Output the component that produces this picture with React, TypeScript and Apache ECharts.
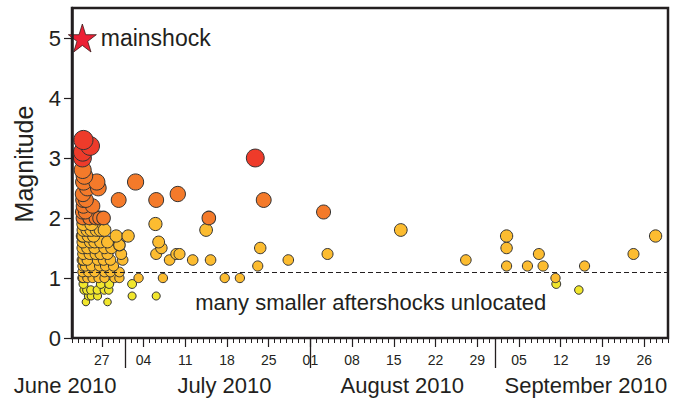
import React, { useEffect, useRef } from 'react';
import * as echarts from 'echarts';

const YEAR = 2010;
const DAY = 86400000;
const HOUR = 3600000;

// time axis extent (month-day, UTC)
const axisStart = '06-22';
const axisEnd = '09-30';
// labelled weekly ticks
const weekTicks = ['06-27', '07-04', '07-11', '07-18', '07-25', '08-01', '08-08', '08-15', '08-22', '08-29', '09-05', '09-12', '09-19', '09-26'];
// month boundary marks
const monthStarts = ['07-01', '08-01', '09-01'];
// month captions and the date each one is centred on [month-day, hour]
const monthNames = ['July 2010', 'August 2010', 'September 2010'];
const monthLabelAt: [string, number][] = [['07-17', 14], ['08-16', 10], ['09-16', 5]];
// the June caption is right-aligned on this date
const juneName = 'June 2010';
const juneLabelRightAt: [string, number] = ['06-29', 11];

const magnitudeTicks = [0, 1, 2, 3, 4, 5];

// mainshock [month-day, hour UTC, magnitude]
const mainshock: [string, number, number] = ['06-23', 17.7, 5.0];
const mainshockLabel = 'mainshock';

// completeness level (dashed line) and its note
const completenessMagnitude = 1.1;
const noteText = 'many smaller aftershocks unlocated';
const noteAt: [string, number, number] = ['08-11', 3, 0.6];

// located aftershocks [month-day, hour UTC, magnitude]
const aftershocks: [string, number, number][] = [
  // M >= 3
  ['06-23', 18, 3.0], ['06-23', 19, 3.1], ['06-23', 22, 3.3], ['06-25', 1, 3.2], ['07-22', 18, 3.0],
  // M 2 - 3
  ['06-23', 18, 2.1], ['06-23', 20, 2.4], ['06-23', 21, 2.3], ['06-23', 22, 2.2], ['06-23', 20, 2.0],
  ['06-23', 19, 2.8], ['06-23', 23, 2.6], ['06-24', 2, 2.7], ['06-24', 6, 2.1], ['06-24', 8, 2.3],
  ['06-24', 14, 2.5], ['06-24', 23, 2.0], ['06-25', 11, 2.2], ['06-26', 0, 2.0], ['06-26', 4, 2.6],
  ['06-26', 10, 2.5], ['06-26', 15, 2.0], ['06-27', 7, 2.0], ['06-29', 20, 2.3], ['07-02', 16, 2.6],
  ['07-06', 3, 2.3], ['07-09', 18, 2.4], ['07-14', 23, 2.0], ['07-24', 4, 2.3], ['08-03', 5, 2.1],
  // M 1 - 2, first week
  ['06-23', 22, 1.9], ['06-25', 6, 1.9],
  ['06-23', 22, 1.8], ['06-24', 14, 1.8], ['06-25', 6, 1.8], ['06-26', 3, 1.8], ['06-26', 19, 1.8], ['06-27', 11, 1.8],
  ['06-23', 18, 1.7], ['06-23', 21, 1.7], ['06-24', 18, 1.7], ['06-25', 15, 1.7], ['06-29', 10, 1.7], ['07-01', 10, 1.7],
  ['06-23', 20, 1.6], ['06-25', 2, 1.6], ['06-25', 19, 1.6], ['06-26', 19, 1.6], ['06-27', 23, 1.6],
  ['06-23', 19, 1.5], ['06-24', 14, 1.5], ['06-25', 19, 1.5], ['06-27', 11, 1.5], ['06-28', 15, 1.5], ['06-29', 23, 1.55],
  ['06-23', 21, 1.4], ['06-24', 23, 1.4], ['06-25', 23, 1.4], ['06-26', 19, 1.4], ['06-27', 23, 1.4], ['06-30', 6, 1.4],
  ['06-23', 18, 1.3], ['06-23', 22, 1.3], ['06-24', 14, 1.3], ['06-26', 7, 1.3], ['06-27', 7, 1.3], ['06-28', 11, 1.3], ['06-30', 12, 1.3],
  ['06-23', 20, 1.2], ['06-24', 6, 1.2], ['06-25', 6, 1.2], ['06-26', 15, 1.2], ['06-27', 15, 1.2], ['06-28', 23, 1.2],
  ['06-23', 19, 1.1], ['06-24', 18, 1.1], ['06-25', 19, 1.1], ['06-27', 11, 1.1], ['06-28', 11, 1.1], ['06-29', 23, 1.1],
  ['06-23', 18, 1.0], ['06-23', 21, 1.0], ['06-24', 14, 1.0], ['06-25', 11, 1.0], ['06-26', 11, 1.0], ['06-27', 11, 1.0],
  ['06-29', 3, 1.0], ['06-29', 23, 1.0],
  // M 1 - 2, later
  ['07-06', 0, 1.9], ['07-06', 13, 1.6], ['07-07', 0, 1.5], ['07-06', 3, 1.4], ['07-08', 9, 1.3], ['07-09', 12, 1.4],
  ['07-10', 1, 1.4], ['07-12', 6, 1.3], ['07-03', 4, 1.0], ['07-07', 6, 1.0], ['07-14', 12, 1.8], ['07-15', 6, 1.3],
  ['07-17', 15, 1.0], ['07-20', 4, 1.0], ['07-23', 14, 1.5], ['07-23', 4, 1.2], ['07-28', 7, 1.3], ['08-03', 21, 1.4],
  ['08-16', 4, 1.8], ['08-27', 2, 1.3], ['09-02', 22, 1.7], ['09-02', 22, 1.5], ['09-02', 22, 1.2], ['09-06', 10, 1.2],
  ['09-08', 8, 1.4], ['09-09', 1, 1.2], ['09-11', 3, 1.0], ['09-16', 0, 1.2], ['09-24', 5, 1.4], ['09-27', 22, 1.7],
  // M < 1
  ['06-23', 22, 0.9], ['06-24', 1, 0.8], ['06-24', 8, 0.6], ['06-24', 12, 0.8], ['06-24', 18, 0.7], ['06-25', 4, 0.8],
  ['06-25', 5, 0.7], ['06-26', 6, 0.8], ['06-26', 7, 0.7], ['06-26', 20, 0.9], ['06-27', 10, 0.8], ['06-27', 23, 0.6],
  ['06-28', 4, 0.8], ['06-28', 6, 0.9], ['07-02', 2, 0.9], ['07-02', 2, 0.7], ['07-06', 3, 0.7], ['09-11', 6, 0.9],
  ['09-15', 1, 0.8],
];

const INK = '#231f20';
const FONT = '"Liberation Sans", Arial, Helvetica, sans-serif';

const toTime = (md: string, h = 0) =>
  Date.UTC(YEAR, Number(md.slice(0, 2)) - 1, Number(md.slice(3, 5))) + h * HOUR;

const colorFor = (m: number) => {
  if (m < 1.0) return '#f1e62c';
  if (m < 2.0) return '#fcbc30';
  if (m < 2.95) return '#f47a2a';
  return '#ee3b2a';
};

const sizeFor = (m: number) => 5 + 4.3 * m;

const STAR =
  'path://M100,0 L122.45,69.1 L195.1,69.1 L136.3,111.8 L158.8,180.9 L100,138.2 L41.2,180.9 L63.7,111.8 L4.9,69.1 L77.55,69.1 Z';

export default function App() {
  const ref = useRef<HTMLDivElement>(null);

  useEffect(() => {
    if (!ref.current) return;
    const chart = echarts.init(ref.current, undefined, { renderer: 'svg' });

    const xMin = toTime(axisStart);
    const xMax = toTime(axisEnd);
    const weekTimes = weekTicks.map((d) => toTime(d));
    const monthStartTimes = monthStarts.map((d) => toTime(d));
    const monthLabelTimes = monthLabelAt.map(([d, h]) => toTime(d, h));
    const juneTime = toTime(juneLabelRightAt[0], juneLabelRightAt[1]);

    const nearestName = (v: number) => {
      let best = 0;
      monthLabelTimes.forEach((t, i) => {
        if (Math.abs(t - v) < Math.abs(monthLabelTimes[best] - v)) best = i;
      });
      return monthNames[best];
    };

    const baseX = {
      type: 'value' as const,
      min: xMin,
      max: xMax,
      position: 'bottom' as const,
      gridIndex: 0,
      axisLine: { show: false, onZero: false },
      splitLine: { show: false },
      axisLabel: { show: false },
      axisTick: { show: false },
    };

    const points = aftershocks
      .map(([d, h, m]) => [toTime(d, h), m])
      .sort((a, b) => a[1] - b[1]);

    const option: any = {
      animation: false,
      textStyle: { fontFamily: FONT },
      grid: {
        left: 72,
        right: 17,
        top: 8,
        bottom: 62,
        show: true,
        borderColor: INK,
        borderWidth: 2.5,
        backgroundColor: 'transparent',
        containLabel: false,
        outerBoundsMode: 'none',
      },
      xAxis: [
        {
          ...baseX,
          interval: DAY,
          axisTick: { show: true, length: 5, lineStyle: { color: INK, width: 1 } },
        },
        {
          ...baseX,
          axisTick: { show: true, length: 9, customValues: weekTimes, lineStyle: { color: INK, width: 1.2 } },
          axisLabel: {
            show: true,
            customValues: weekTimes,
            formatter: (v: number) => String(new Date(v).getUTCDate()).padStart(2, '0'),
            fontSize: 14,
            margin: 15,
            color: INK,
            fontFamily: FONT,
          },
        },
        {
          ...baseX,
          axisTick: { show: true, length: 30, customValues: monthStartTimes, lineStyle: { color: INK, width: 1.3 } },
        },
        {
          ...baseX,
          axisLabel: {
            show: true,
            customValues: monthLabelTimes,
            formatter: (v: number) => nearestName(v),
            fontSize: 22,
            margin: 36,
            color: INK,
            fontFamily: FONT,
          },
        },
        {
          ...baseX,
          axisLabel: {
            show: true,
            customValues: [juneTime],
            formatter: () => juneName,
            align: 'right',
            fontSize: 22,
            margin: 36,
            color: INK,
            fontFamily: FONT,
          },
        },
      ],
      yAxis: {
        type: 'value',
        min: 0,
        max: 5.5,
        z: 5,
        axisLine: { show: true, onZero: false, lineStyle: { color: INK, width: 2.5 } },
        axisTick: { show: true, length: 8, customValues: magnitudeTicks, lineStyle: { color: INK, width: 1.2 } },
        axisLabel: {
          show: true,
          customValues: magnitudeTicks,
          fontSize: 22,
          margin: 11,
          color: INK,
          fontFamily: FONT,
          padding: [0, 0, 5, 0],
        },
        splitLine: { show: false },
        name: 'Magnitude',
        nameLocation: 'middle',
        nameGap: 36,
        nameTextStyle: { fontSize: 25, color: INK, fontFamily: FONT, padding: [0, 0, 0, 18] },
      },
      series: [
        {
          type: 'scatter',
          xAxisIndex: 0,
          yAxisIndex: 0,
          silent: true,
          data: points,
          symbol: 'circle',
          symbolSize: (v: number[]) => sizeFor(v[1]),
          itemStyle: {
            color: (p: any) => colorFor(p.value[1]),
            borderColor: '#333',
            borderWidth: 1,
            opacity: 1,
          },
          markLine: {
            silent: true,
            symbol: ['none', 'none'],
            label: { show: false },
            lineStyle: { type: [5, 3], color: INK, width: 1, opacity: 1 },
            data: [{ yAxis: completenessMagnitude }],
          },
        },
        {
          type: 'scatter',
          xAxisIndex: 0,
          yAxisIndex: 0,
          silent: true,
          z: 4,
          data: [[toTime(mainshock[0], mainshock[1]), mainshock[2]]],
          symbol: STAR,
          symbolSize: [28, 28],
          itemStyle: { color: '#ec2035', borderColor: '#3a1a1a', borderWidth: 0.8, opacity: 1 },
          label: {
            show: true,
            position: 'right',
            distance: 4,
            formatter: mainshockLabel,
            fontSize: 23,
            color: INK,
            opacity: 1,
            fontFamily: FONT,
          },
        },
        {
          type: 'scatter',
          xAxisIndex: 0,
          yAxisIndex: 0,
          silent: true,
          data: [[toTime(noteAt[0], noteAt[1]), noteAt[2]]],
          symbol: 'circle',
          symbolSize: 1,
          itemStyle: { color: 'rgba(0,0,0,0)', borderWidth: 0, opacity: 1 },
          label: {
            show: true,
            position: 'inside',
            formatter: noteText,
            fontSize: 22,
            color: INK,
            opacity: 1,
            fontFamily: FONT,
          },
        },
      ],
    };

    chart.setOption(option);
    return () => chart.dispose();
  }, []);

  return (
    <div
      ref={ref}
      style={{ position: 'absolute', left: 0, top: 0, width: 685, height: 400, background: '#fff' }}
    />
  );
}
